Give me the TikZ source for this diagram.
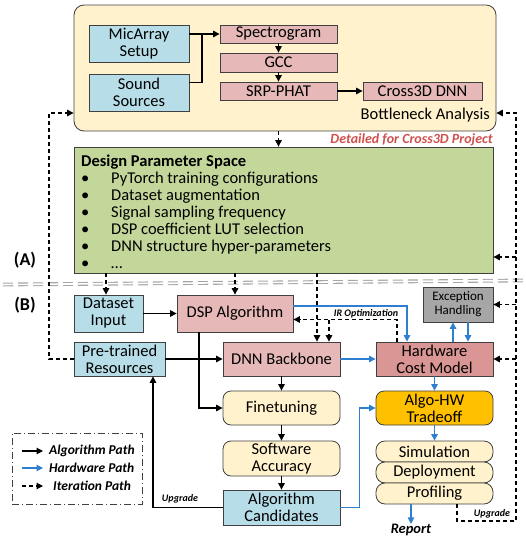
\documentclass[tikz,border=0pt]{standalone}
\usepackage{fontspec}
\setmainfont{Carlito}
\usetikzlibrary{arrows.meta}
\definecolor{cbeige}{HTML}{FFF2CC}
\definecolor{cblue}{HTML}{B7DEE8}
\definecolor{cpink}{HTML}{E6B9B8}
\definecolor{chw}{HTML}{DA9694}
\definecolor{cgreen}{HTML}{C4D79B}
\definecolor{corange}{HTML}{FFC000}
\definecolor{cgray}{HTML}{A6A6A6}
\definecolor{cline}{HTML}{404040}
\definecolor{hwblue}{HTML}{2E7FD0}
\definecolor{cred}{HTML}{D0504C}
\begin{document}
\begin{tikzpicture}[x=1pt,y=-1pt,
  font=\fontsize{16.5}{17}\selectfont,
  bx/.style={draw=cline, line width=0.8pt, inner sep=0pt, align=center},
  rbx/.style={bx, rounded corners=8pt, fill=cbeige},
  pill/.style={bx, rounded corners=9pt, fill=cbeige, minimum width=117pt, minimum height=21pt},
  tip/.style={-{Triangle[length=6.5pt,width=6.5pt]}},
  alg/.style={line width=1.1pt, black},
  hwp/.style={line width=1.1pt, hwblue},
  itp/.style={line width=1.1pt, black, dash pattern=on 4pt off 3pt},
  lbl/.style={font=\fontsize{10}{11}\selectfont\bfseries\itshape, inner sep=0pt},
  legtxt/.style={font=\fontsize{13.5}{14}\selectfont\bfseries\itshape, inner sep=0pt, anchor=west},
  plain/.style={inner sep=0pt, anchor=base west},
]
\useasboundingbox (0,0) rectangle (526,538);

% ---------- part A ----------
\node[bx, rounded corners=10pt, fill=cbeige, minimum width=422pt, minimum height=126pt] (top) at (285,68) {};
\node[bx, fill=cblue, minimum width=100pt, minimum height=37pt] (mic) at (139,43.5) {MicArray\\Setup};
\node[bx, fill=cblue, minimum width=100pt, minimum height=37pt] (snd) at (139,92.5) {Sound\\Sources};
\node[bx, fill=cpink, minimum width=117pt, minimum height=18pt] (spec) at (278.5,34) {Spectrogram};
\node[bx, fill=cpink, minimum width=117pt, minimum height=19pt] (gcc) at (278.5,62.5) {GCC};
\node[bx, fill=cpink, minimum width=117pt, minimum height=18pt] (srp) at (278.5,91) {SRP-PHAT};
\node[bx, fill=cpink, minimum width=119pt, minimum height=18pt] (cross) at (422.5,91) {Cross3D DNN};
\node[inner sep=0pt, anchor=east] (bna) at (490,115) {Bottleneck Analysis};

\coordinate (j1) at (202,34);
\draw[alg,tip] (mic.east |- spec.west) -- (spec.west);
\draw[alg] ([yshift=10pt]snd.east) -| (j1);
\draw[alg,tip] (spec.south) -- (gcc.north);
\draw[alg,tip] (gcc.south) -- (srp.north);
\draw[alg,tip] (srp.east) -- (cross.west);

\node[bx, fill=cgreen, minimum width=419pt, minimum height=126pt] (green) at (283.5,210) {};
\draw[itp,tip] (top.south -| spec.south) -- (green.north -| spec.south);
\node[inner sep=0pt, anchor=east, text=cred, font=\fontsize{14}{15}\selectfont\bfseries\itshape] (det) at (493,140) {Detailed for Cross3D Project};

\node[plain, font=\fontsize{16.5}{17}\selectfont\bfseries] (dps) at (81,166) {Design Parameter Space};
\foreach \i/\t in {0/PyTorch training configurations, 1/Dataset augmentation, 2/Signal sampling frequency, 3/DSP coefficient LUT selection, 4/DNN structure hyper-parameters, 5/\ldots}{
  \node[plain] (b\i) at (81,183+17*\i) {\makebox[30pt][l]{\textbullet}\t};
}

\node[inner sep=0pt, font=\fontsize{18}{19}\selectfont\bfseries] (labA) at (25,260) {(A)};
\node[inner sep=0pt, font=\fontsize{18}{19}\selectfont\bfseries] (labB) at (25,305) {(B)};

\draw[cgray, line width=1.1pt, double=white, double distance=1.6pt, dash pattern=on 10pt off 5pt] (3,284.5) -- (524,280.5);

% ---------- part B ----------
\node[bx, fill=cblue, minimum width=69pt, minimum height=37pt] (data) at (108.5,313.5) {Dataset\\Input};
\node[bx, fill=cpink, minimum width=116pt, minimum height=37pt] (dsp) at (235,313.5) {DSP Algorithm};
\node[bx, fill=cblue, minimum width=91pt, minimum height=34pt] (pre) at (119.5,359) {Pre-trained\\Resources};
\node[bx, fill=cpink, minimum width=117pt, minimum height=34pt] (dnn) at (281.5,359) {DNN Backbone};
\node[bx, fill=chw, minimum width=117pt, minimum height=34pt] (hw) at (434.5,359) {Hardware\\Cost Model};
\node[bx, fill=cgray, minimum width=70pt, minimum height=35pt, font=\fontsize{13}{14}\selectfont] (exc) at (458,304.5) {Exception\\Handling};
\node[rbx, minimum width=117pt, minimum height=34pt] (fin) at (281.5,408) {Finetuning};
\node[bx, rounded corners=8pt, fill=corange, minimum width=117pt, minimum height=34pt] (algo) at (434.5,408) {Algo-HW\\Tradeoff};
\node[rbx, minimum width=117pt, minimum height=35pt] (sw) at (281.5,458.5) {Software\\Accuracy};
\node[bx, fill=cblue, minimum width=117pt, minimum height=35pt] (cand) at (281.5,507.5) {Algorithm\\Candidates};
\node[pill] (sim) at (434.5,451.5) {Simulation};
\node[pill] (dep) at (434.5,472.5) {Deployment};
\node[pill] (prof) at (434.5,493.5) {Profiling};
\node[inner sep=0pt, font=\fontsize{14.5}{15}\selectfont\bfseries\itshape] (rep) at (411,530) {Report};

% iteration paths
\coordinate (tl) at (49,113);
\draw[itp,tip] (pre.west) -| (tl) -- (tl -| top.west);
\coordinate (br) at (516,521);
\coordinate (tr) at (516,113);
\draw[itp,tip] ([xshift=22.5pt]prof.south) |- (br) -- (tr) -- (tr -| top.east);
\coordinate (g1) at (516,257);
\draw[itp,tip] (g1) -- (g1 -| green.east);
\draw[itp,tip] (exc.east -| br) -- (exc.east);
\draw[itp,tip] (hw.east -| br) -- (hw.east);
\node[lbl] (upg2) at (492,514) {Upgrade};

\coordinate (dn1) at ([xshift=-2.5pt]data.north);
\draw[itp,tip] (dn1 |- green.south) -- (dn1);
\draw[itp,tip] (dsp.north |- green.south) -- (dsp.north);
\coordinate (dn2) at ([xshift=35.5pt]dnn.north);
\draw[itp,tip] (dn2 |- green.south) -- (dn2);
\coordinate (irr) at ([yshift=-6pt]dsp.east);
\draw[itp,tip] ([xshift=-37.5pt]hw.north) |- (irr);
\coordinate (dn3) at ([xshift=47.5pt]dnn.north);
\draw[itp,tip] (dn3 |- irr) -- (dn3);
\node[lbl] (iro) at (366,314) {IR Optimization};

% hardware paths
\draw[hwp,tip] ([yshift=7.5pt]dsp.east) -| ([xshift=-27.5pt]hw.north);
\draw[hwp,tip] ([xshift=18.5pt]hw.north) -- ([xshift=-5pt]exc.south);
\draw[hwp,tip] ([xshift=10pt]exc.south) -- ([xshift=33.5pt]hw.north);
\draw[hwp,tip] (dnn.east) -- (hw.west);
\draw[hwp,tip] (hw.south) -- (algo.north);
\draw[hwp,tip] (cand.east) -- ++(19,0) |- (algo.west);
\draw[hwp,tip] (algo.south) -- (sim.north);
\draw[hwp,tip] ([xshift=-23.5pt]prof.south) -- ([xshift=-23.5pt]prof.south |- rep.north) ;

% algorithm paths
\draw[alg,tip] (data.east) -- (dsp.west);
\draw[alg,tip] (pre.east) -- (dnn.west);
\draw[alg,tip] (dnn.south) -- (fin.north);
\draw[alg,tip] ([xshift=-36pt]dsp.south) |- (fin.west);
\draw[alg,tip] (fin.south) -- (sw.north);
\draw[alg,tip] (sw.south) -- (cand.north);
\draw[alg,tip] (cand.west) -| ([xshift=33.5pt]pre.south);
\node[lbl] (upg1) at (180,499) {Upgrade};

% legend
\node[draw=cline, line width=0.8pt, dash pattern=on 7pt off 3pt on 1pt off 3pt, minimum width=130pt, minimum height=71pt, inner sep=0pt] (leg) at (77,468.5) {};
\coordinate (la1) at (22,451); \coordinate (lb1) at (43,451);
\coordinate (la2) at (22,468); \coordinate (lb2) at (43,468);
\coordinate (la3) at (22,486); \coordinate (lb3) at (43,486);
\draw[alg,tip] (la1) -- (lb1);
\draw[hwp,tip] (la2) -- (lb2);
\draw[itp,tip] (la3) -- (lb3);
\node[legtxt] (lt1) at (49,451) {Algorithm Path};
\node[legtxt] (lt2) at (49,468) {Hardware Path};
\node[legtxt] (lt3) at (53,486) {Iteration Path};
\end{tikzpicture}
\end{document}
